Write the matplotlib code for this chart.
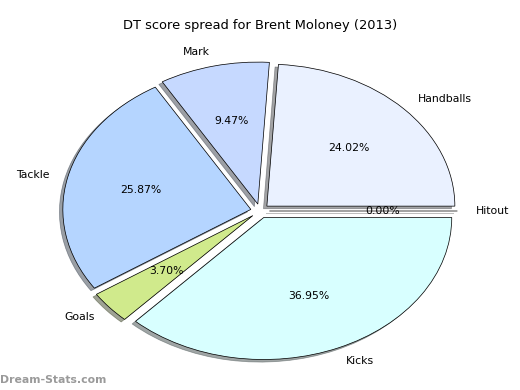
import matplotlib
matplotlib.use("Agg")
import matplotlib.pyplot as plt

labels = ["Hitout", "Handballs", "Mark", "Tackle", "Goals", "Kicks"]
shares = [0.00, 24.02, 9.47, 25.87, 3.70, 36.95]
colors = ["#ffffff", "#eaf1ff", "#c6d9ff", "#b5d5ff", "#d0ea8c", "#d8ffff"]
explode = [0.05] * len(labels)

fig = plt.figure(figsize=(8, 6), dpi=65)

# pie centre sits at about (260, 211) px from top-left
ax = fig.add_axes([25 / 520, 1.5 / 390, 470 / 520, 355 / 390])

wedges, texts, autotexts = ax.pie(
    shares,
    labels=labels,
    colors=colors,
    explode=explode,
    autopct="%1.2f%%",
    shadow=True,
    startangle=0,
    counterclock=True,
    wedgeprops={"edgecolor": "black", "linewidth": 0.8},
    textprops={"fontsize": 12},
)
ax.set_aspect("auto")
ax.set_xlim(-1.25, 1.25)
ax.set_ylim(-1.25, 1.25)

fig.text(
    260 / 520,
    1 - 25 / 390,
    "DT score spread for Brent Moloney (2013)",
    ha="center",
    va="center",
    fontsize=14.4,
)

fig.text(
    0.0,
    1 - 380 / 390,
    "Dream-Stats.com",
    ha="left",
    va="center",
    fontsize=12,
    fontweight="bold",
    color="#9a9a9a",
)

fig.savefig("out.png", dpi=65)
